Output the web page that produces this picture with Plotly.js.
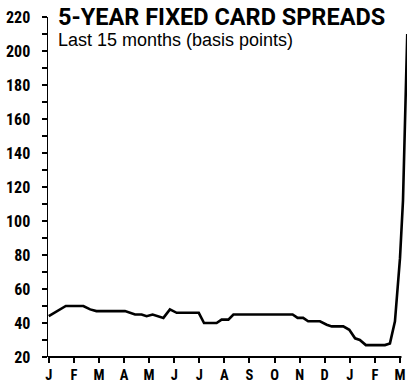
<!DOCTYPE html>
<html>
<head>
<meta charset="utf-8">
<script src="https://cdn.plot.ly/plotly-3.0.1.min.js"></script>
<style>html,body{margin:0;padding:0;background:#fff;}#chart{width:407px;height:385px;}</style>
</head>
<body>
<div id="chart"></div>
<script>
// Month position (0 = first J, 14 = last M) and spread values (basis points)
const monthPos = [0, 0.68, 1.38, 1.65, 1.9, 3.04, 3.44, 3.7, 3.9, 4.14, 4.57, 4.83, 5.1, 5.98, 6.19, 6.69, 6.89, 7.16, 7.36, 9.72, 9.92, 10.14, 10.34, 10.81, 11.08, 11.28, 11.74, 11.98, 12.21, 12.4, 12.64, 13.4, 13.6, 13.8, 14.0, 14.12, 14.29];
const spreads  = [44, 50, 50, 48, 47, 47, 45, 45, 44, 45, 43, 48, 46, 46, 40, 40, 42, 42, 45, 45, 43, 43, 41, 41, 39, 38, 38, 36, 31, 30, 27, 27, 28, 41, 78, 112, 210];
const monthLabels = ['J','F','M','A','M','J','J','A','S','O','N','D','J','F','M'];
const monthTicks = [0,1,2,3,4,5,6,7,8,9,10,11,12,13,14];
const yTicks = [20,40,60,80,100,120,140,160,180,200,220];

const cond = 'Roboto Condensed, Roboto, sans-serif';

const trace = {
  x: monthPos, y: spreads, type: 'scatter', mode: 'lines',
  line: {color: '#000', width: 2.6, shape: 'linear'},
  hoverinfo: 'skip'
};

const layout = {
  width: 407, height: 385,
  margin: {l: 48, r: 0, t: 17, b: 28, pad: 0},
  paper_bgcolor: '#fff', plot_bgcolor: '#fff',
  showlegend: false,
  xaxis: {
    range: [-0.03, 14.28], showgrid: false, zeroline: false, showline: false,
    tickmode: 'array', tickvals: monthTicks, ticktext: monthLabels,
    ticks: 'outside', ticklen: 5, tickwidth: 2, tickcolor: '#000',
    tickfont: {family: cond, size: 14.5, color: '#000', weight: 'bold'},
    fixedrange: true
  },
  yaxis: {
    range: [20, 220], showgrid: false, zeroline: false,
    showline: true, linecolor: '#000', linewidth: 1.5,
    tickmode: 'array', tickvals: yTicks,
    ticks: 'outside', ticklen: 5, tickwidth: 1.5, tickcolor: '#000',
    minor: {dtick: 10, tick0: 10, ticks: 'outside', ticklen: 5, tickwidth: 1.2, tickcolor: '#000'},
    tickfont: {family: cond, size: 16, color: '#000', weight: 'bold'},
    ticklabelstandoff: 8,
    fixedrange: true
  },
  shapes: [{
    type: 'line', xref: 'x', yref: 'paper', x0: -0.03, x1: 14.06, y0: 0, y1: 0,
    line: {color: '#000', width: 2}
  }],
  annotations: [
    {text: '5-YEAR FIXED CARD SPREADS', xref: 'paper', yref: 'paper', x: 0.022, y: 1.0,
     xanchor: 'left', yanchor: 'middle', height: 18, showarrow: false,
     font: {family: 'Roboto, sans-serif', size: 23.5, color: '#000', weight: 'bold'}},
    {text: 'Last 15 months (basis points)', xref: 'paper', yref: 'paper', x: 0.022, y: 0.931,
     xanchor: 'left', yanchor: 'middle', height: 20, showarrow: false,
     font: {family: 'Liberation Sans, Arial, sans-serif', size: 18, color: '#000'}}
  ]
};

Plotly.newPlot('chart', [trace], layout, {displayModeBar: false, staticPlot: true});
</script>
</body>
</html>
